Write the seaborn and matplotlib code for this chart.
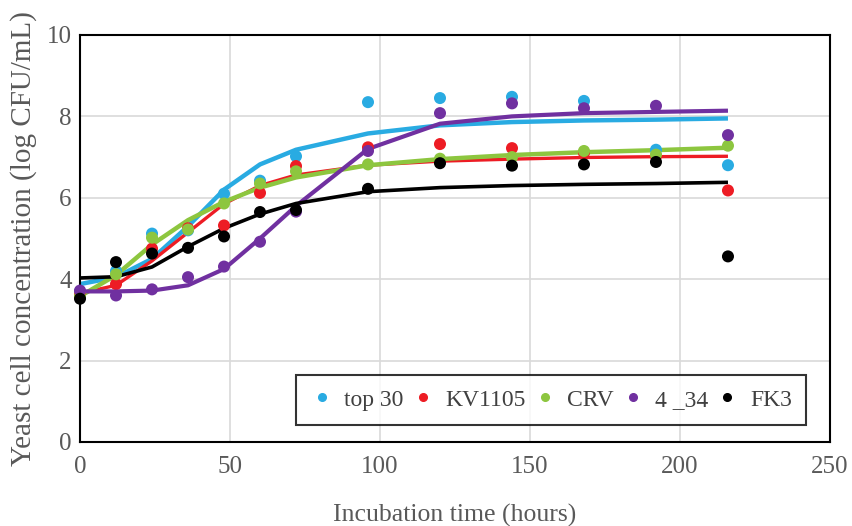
import numpy as np
import pandas as pd
import matplotlib
matplotlib.use("Agg")
import matplotlib.pyplot as plt
import seaborn as sns

time = [0, 12, 24, 36, 48, 60, 72, 96, 120, 144, 168, 192, 216]
strains = ["top 30", "KV1105", "CRV", "4 _34", "FK3"]
colors = ["#29ABE2", "#ED1C24", "#8DC63F", "#7030A0", "#000000"]

# observed values (log CFU/mL)
obs_top30 = [3.70, 4.20, 5.12, 5.20, 6.10, 6.42, 7.02, 8.35, 8.45, 8.48, 8.38, 7.18, 6.80]
obs_kv1105 = [3.62, 3.88, 4.75, 5.25, 5.32, 6.12, 6.78, 7.24, 7.32, 7.22, 7.10, 7.02, 6.18]
obs_crv = [3.58, 4.12, 5.02, 5.22, 5.86, 6.35, 6.65, 6.82, 6.96, 7.00, 7.15, 7.06, 7.28]
obs_434 = [3.72, 3.60, 3.75, 4.05, 4.31, 4.92, 5.66, 7.15, 8.08, 8.32, 8.20, 8.26, 7.54]
obs_fk3 = [3.52, 4.42, 4.63, 4.77, 5.05, 5.65, 5.70, 6.22, 6.85, 6.79, 6.82, 6.88, 4.56]

# fitted model values
fit_top30 = [3.88, 4.05, 4.50, 5.30, 6.20, 6.82, 7.18, 7.58, 7.78, 7.86, 7.90, 7.92, 7.95]
fit_kv1105 = [3.65, 3.85, 4.45, 5.15, 5.85, 6.30, 6.56, 6.80, 6.90, 6.95, 6.99, 7.01, 7.02]
fit_crv = [3.58, 4.10, 4.85, 5.45, 5.90, 6.25, 6.50, 6.80, 6.95, 7.05, 7.12, 7.17, 7.23]
fit_434 = [3.70, 3.70, 3.72, 3.85, 4.25, 5.00, 5.80, 7.20, 7.82, 8.00, 8.08, 8.11, 8.14]
fit_fk3 = [4.03, 4.06, 4.30, 4.80, 5.25, 5.60, 5.86, 6.15, 6.25, 6.30, 6.33, 6.35, 6.38]

obs = [obs_top30, obs_kv1105, obs_crv, obs_434, obs_fk3]
fit = [fit_top30, fit_kv1105, fit_crv, fit_434, fit_fk3]

rows_obs, rows_fit = [], []
for s, o, f in zip(strains, obs, fit):
    for t, v in zip(time, o):
        rows_obs.append({"time": t, "value": v, "strain": s})
    for t, v in zip(time, f):
        rows_fit.append({"time": t, "value": v, "strain": s})
df_obs = pd.DataFrame(rows_obs)
df_fit = pd.DataFrame(rows_fit)
palette = dict(zip(strains, colors))

sns.set_style("white")
plt.rcParams["font.family"] = ["Liberation Serif", "DejaVu Serif"]

fig = plt.figure(figsize=(8.53, 5.26), dpi=100)
ax = fig.add_axes([0.0938, 0.1597, 0.8792, 0.7738])

lw = {"top 30": 3.2, "KV1105": 2.4, "CRV": 3.2, "4 _34": 3.0, "FK3": 2.6}
for s in strains:
    sns.lineplot(data=df_fit[df_fit.strain == s], x="time", y="value",
                 color=palette[s], linewidth=lw[s], ax=ax, legend=False,
                 solid_capstyle="butt")
sns.scatterplot(data=df_obs, x="time", y="value", hue="strain",
                palette=palette, hue_order=strains, s=75, linewidth=0,
                ax=ax, legend=False, zorder=3, clip_on=False)

ax.set_xlim(0, 250)
ax.set_ylim(0, 10)
ax.set_xticks([0, 50, 100, 150, 200, 250])
ax.set_yticks([0, 2, 4, 6, 8, 10])
ax.grid(True, color="#D9D9D9", linewidth=1.2)
ax.set_axisbelow(True)
for sp in ax.spines.values():
    sp.set_visible(True)
    sp.set_color("#000000")
    sp.set_linewidth(1.5)
ax.tick_params(axis="both", length=0, labelsize=18, colors="#595959")
ax.tick_params(axis="x", pad=10)
ax.tick_params(axis="y", pad=6)
ax.set_xlabel("Incubation time (hours)", fontsize=18.5, color="#595959", labelpad=19)
ax.set_ylabel("Yeast cell concentration (log CFU/mL)", fontsize=21, color="#595959", labelpad=7)

handles = [plt.Line2D([], [], marker="o", linestyle="", color=c, markersize=5.5)
           for c in colors]
leg = ax.legend(handles, strains, ncol=5, loc="lower left",
                bbox_to_anchor=(0.288, 0.042, 0.68, 0.128), mode="expand",
                frameon=True, fancybox=False, fontsize=17, handletextpad=0.45,
                columnspacing=0.6, handlelength=1.0, borderaxespad=0,
                borderpad=0.6)
leg.get_frame().set_edgecolor("#000000")
leg.get_frame().set_linewidth(1.5)
for t in leg.get_texts():
    t.set_color("#404040")

fig.savefig("out.png", dpi=100)
